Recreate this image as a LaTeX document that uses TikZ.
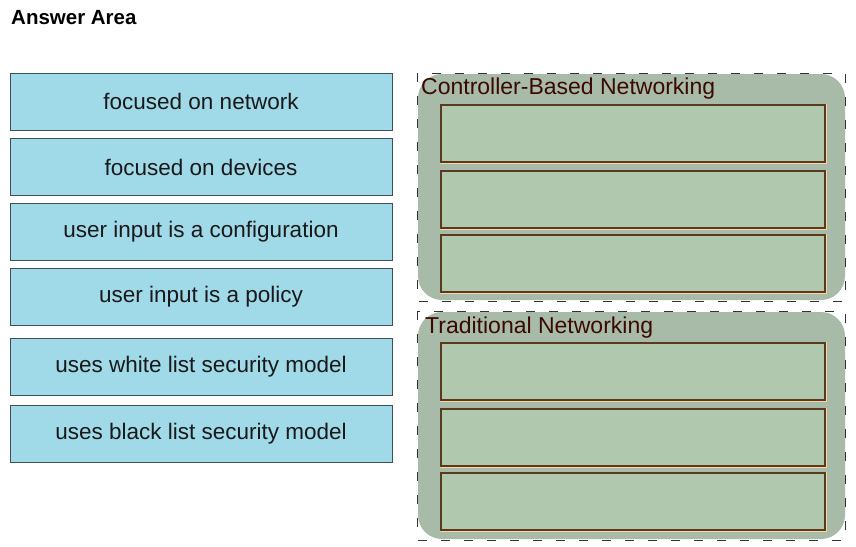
\documentclass[tikz,border=0pt]{standalone}
\usepackage{fontspec}
\setmainfont{Liberation Sans}
\usepackage{tikz}
\usetikzlibrary{positioning}
\definecolor{itemcol}{HTML}{A0D9E8}
\definecolor{itemline}{HTML}{3E4F5A}
\definecolor{panelcol}{HTML}{A8BAA8}
\definecolor{slotcol}{HTML}{AFC8AE}
\definecolor{slotline}{HTML}{5A3A1C}
\definecolor{titlecol}{HTML}{3A0A02}
\tikzset{
  item/.style={draw=itemline, line width=0.9pt, fill=itemcol, text=black!90,
    minimum width=382pt, minimum height=57pt, align=center,
    font=\fontsize{22.5}{26}\selectfont},
  panel/.style={fill=panelcol, rounded corners=24pt},
  frame/.style={draw=black!80, line width=0.6pt, dash pattern=on 9pt off 14pt},
  slot/.style={draw=slotline, line width=1.1pt, fill=slotcol,
    preaction={draw=orange!35, line width=3pt},
    minimum width=384pt, minimum height=57pt},
  paneltitle/.style={anchor=west, inner sep=0pt, text=titlecol,
    font=\fontsize{23}{26}\selectfont}}
\begin{document}
\begin{tikzpicture}[x=1pt,y=-1pt]
  \useasboundingbox (0,0) rectangle (856,546);
  \fill[white] (0,0) rectangle (856,546);
  \node[anchor=west, inner sep=0pt, font=\fontsize{20.5}{24}\bfseries] (head) at (11,18) {Answer Area};
  % drag items
  \node[item] (net) at (201,101.5) {focused on network};
  \node[item] (dev) at (201,167) {focused on devices};
  \node[item] (conf) at (201,231.5) {user input is a configuration};
  \node[item] (pol) at (201,296.5) {user input is a policy};
  \node[item] (white) at (201,366.5) {uses white list security model};
  \node[item] (black) at (201,433.5) {uses black list security model};
  % controller-based panel
  \fill[panel] (418,74) rectangle (845,300);
  \draw[frame] (417,73) rectangle (845,301);
  \node[paneltitle] (ctitle) at (421,89) {Controller-Based Networking};
  \node[slot] (c1) at (633,133.5) {};
  \node[slot] (c2) at (633,199.5) {};
  \node[slot] (c3) at (633,263.5) {};
  % traditional panel
  \fill[panel] (418,312) rectangle (845,539);
  \draw[frame] (417,311) rectangle (845,540);
  \node[paneltitle] (ttitle) at (425,328) {Traditional Networking};
  \node[slot] (t1) at (633,371.5) {};
  \node[slot] (t2) at (633,437.5) {};
  \node[slot] (t3) at (633,501.5) {};
\end{tikzpicture}
\end{document}
